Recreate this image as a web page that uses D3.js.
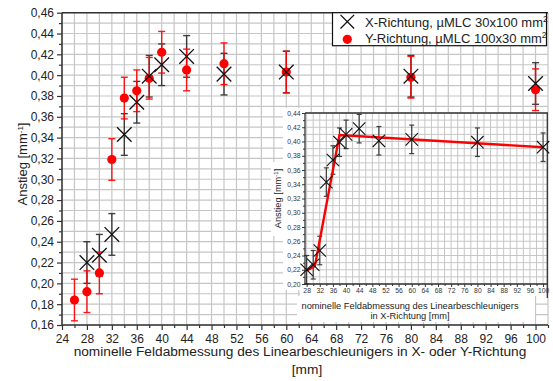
<!DOCTYPE html>
<html><head><meta charset="utf-8">
<script src="https://cdn.jsdelivr.net/npm/d3@7"></script>
<style>body{margin:0;background:#fff}svg{display:block;font-family:"Liberation Sans",Arial,sans-serif}</style>
</head><body>
<svg id="c" width="553" height="381"></svg>
<script>
// ---- data ----
const xDirSizes = [28,30,32,34,36,38,40,44,50,60,80,100];
const xDirSlope = [0.220,0.227,0.247,0.343,0.374,0.399,0.410,0.418,0.401,0.403,0.399,0.392];
const xDirErr   = [0.02,0.02,0.02,0.02,0.02,0.02,0.02,0.02,0.02,0.02,0.02,0.02];
const yDirSizes = [26,28,30,32,34,36,38,40,44,50,60,80,100];
const yDirSlope = [0.184,0.192,0.210,0.319,0.378,0.385,0.397,0.422,0.405,0.411,0.403,0.398,0.386];
const yDirErr   = [0.02,0.02,0.02,0.02,0.02,0.02,0.02,0.02,0.02,0.02,0.02,0.02,0.02];
const fitSizes  = [28,30.5,38,100];
const fitSlope  = [0.219,0.225,0.409,0.392];
const mainXTicks = d3.range(24,101,4);
const mainYTicks = d3.range(16,47,2).map(v=>v/100);
const insetXTicks = d3.range(28,101,4);
const insetYTicks = d3.range(20,45,2).map(v=>v/100);
const legendLabels = ["X-Richtung, µMLC 30x100 mm","Y-Richtung, µMLC 100x30 mm"];

const svg = d3.select("#c");
const fmt = d => d3.format(".2f")(d).replace(".", ",");
const gridCol = "#c6c6c6", axisCol = "#333";

// ---- main chart ----
const x = d3.scaleLinear().domain([24,102]).range([62,548]);
const y = d3.scaleLinear().domain([0.16,0.46]).range([325,12.7]);
const main = svg.append("g");
// grid
main.append("g").selectAll("line").data(d3.range(24,103,2)).join("line")
  .attr("x1",d=>x(d)).attr("x2",d=>x(d)).attr("y1",y(0.16)).attr("y2",y(0.46))
  .attr("stroke",gridCol).attr("stroke-width",1.2);
main.append("g").selectAll("line").data(d3.range(16,47,1).map(v=>v/100)).join("line")
  .attr("x1",x(24)).attr("x2",x(102)).attr("y1",d=>y(d)).attr("y2",d=>y(d))
  .attr("stroke",gridCol).attr("stroke-width",1.2);
// axes
const yAx = main.append("g").attr("transform",`translate(${x(24)},0)`)
  .call(d3.axisLeft(y).tickValues(mainYTicks).tickFormat(fmt).tickSize(5).tickPadding(3));
main.append("g").attr("transform",`translate(${x(24)},0)`)
  .call(d3.axisLeft(y).tickValues(d3.range(17,46,2).map(v=>v/100)).tickFormat("").tickSize(3));
const xAx = main.append("g").attr("transform",`translate(0,${y(0.16)})`)
  .call(d3.axisBottom(x).tickValues(mainXTicks).tickFormat(d3.format("d")).tickSize(5).tickPadding(4));
main.append("g").attr("transform",`translate(0,${y(0.16)})`)
  .call(d3.axisBottom(x).tickValues(d3.range(26,103,4)).tickFormat("").tickSize(3));
main.selectAll(".domain").remove();
main.selectAll(".tick line").attr("stroke",axisCol).attr("stroke-width",1.2);
main.selectAll(".tick text").attr("font-size",12).attr("fill","#222").attr("font-family","Liberation Sans, Arial, sans-serif");
main.append("line").attr("x1",x(24)).attr("x2",x(24)).attr("y1",y(0.46)).attr("y2",y(0.16)).attr("stroke",axisCol).attr("stroke-width",1.5);
main.append("line").attr("x1",x(24)).attr("x2",x(102)).attr("y1",y(0.16)).attr("y2",y(0.16)).attr("stroke",axisCol).attr("stroke-width",1.5);
main.append("line").attr("x1",x(24)).attr("x2",x(102)).attr("y1",y(0.46)).attr("y2",y(0.46)).attr("stroke",axisCol).attr("stroke-width",1.5);

// titles
svg.append("text").attr("transform","translate(27,164) rotate(-90)").attr("text-anchor","middle")
  .attr("font-size",13).attr("fill","#222")
  .html('Anstieg [mm<tspan baseline-shift="super" font-size="8">-1</tspan>]');
svg.append("text").attr("x",300).attr("y",356).attr("text-anchor","middle").attr("font-size",13.7).attr("fill","#222")
  .text("nominelle Feldabmessung des Linearbeschleunigers in X- oder Y-Richtung");
svg.append("text").attr("x",307).attr("y",374).attr("text-anchor","middle").attr("font-size",13.7).attr("fill","#222")
  .text("[mm]");

function errBars(g, sx, sy, xs, vs, es, col, cap, sw, op){
  const d = xs.map((v,i)=>({x:v,y:vs[i],e:es[i]}));
  const gg = g.append("g").attr("stroke",col).attr("stroke-width",sw).attr("opacity",op);
  gg.selectAll(".v").data(d).join("line").attr("x1",p=>sx(p.x)).attr("x2",p=>sx(p.x))
    .attr("y1",p=>sy(p.y-p.e)).attr("y2",p=>sy(p.y+p.e));
  gg.selectAll(".t").data(d).join("line").attr("x1",p=>sx(p.x)-cap).attr("x2",p=>sx(p.x)+cap)
    .attr("y1",p=>sy(p.y+p.e)).attr("y2",p=>sy(p.y+p.e));
  gg.selectAll(".b").data(d).join("line").attr("x1",p=>sx(p.x)-cap).attr("x2",p=>sx(p.x)+cap)
    .attr("y1",p=>sy(p.y-p.e)).attr("y2",p=>sy(p.y-p.e));
}
function crosses(g, sx, sy, xs, vs, h, sw){
  const d = xs.map((v,i)=>({x:v,y:vs[i]}));
  g.append("g").selectAll("path").data(d).join("path")
    .attr("d",p=>{const cx=sx(p.x),cy=sy(p.y);return `M${cx-h},${cy-h}L${cx+h},${cy+h}M${cx-h},${cy+h}L${cx+h},${cy-h}`;})
    .attr("stroke","#111").attr("stroke-width",sw).attr("fill","none");
}

errBars(main, x, y, xDirSizes, xDirSlope, xDirErr, "#222", 3.5, 1.4, 0.85);
errBars(main, x, y, yDirSizes, yDirSlope, yDirErr, "#f00", 3.5, 1.4, 0.9);
main.append("g").selectAll("circle").data(yDirSizes.map((v,i)=>({x:v,y:yDirSlope[i]}))).join("circle")
  .attr("cx",p=>x(p.x)).attr("cy",p=>y(p.y)).attr("r",4.6).attr("fill","#f00");
crosses(main, x, y, xDirSizes, xDirSlope, 7.3, 1.3);

// legend
const lg = svg.append("g");
lg.append("rect").attr("x",332.5).attr("y",12.7).attr("width",214).attr("height",33).attr("fill","#fff").attr("stroke","#111").attr("stroke-width",1.2);
lg.append("path").attr("d","M340.5,14.9L354.1,28.5M340.5,28.5L354.1,14.9").attr("stroke","#111").attr("stroke-width",1.3);
lg.append("circle").attr("cx",347.3).attr("cy",39.3).attr("r",4.6).attr("fill","#f00");
legendLabels.forEach((t,i)=>{
  lg.append("text").attr("x",365).attr("y",26.5+i*16.5).attr("font-size",13).attr("fill","#222")
    .html(t+'<tspan baseline-shift="super" font-size="8.5">2</tspan>');
});

// ---- inset ----
const ix = d3.scaleLinear().domain([27.5,101.5]).range([305,548]);
const iy = d3.scaleLinear().domain([0.20,0.44]).range([284,113]);
const ins = svg.append("g");
ins.append("rect").attr("x",283).attr("y",108).attr("width",22).attr("height",182).attr("fill","#fff");
ins.append("rect").attr("x",300).attr("y",284).attr("width",248).attr("height",12).attr("fill","#fff");
ins.append("rect").attr("x",271).attr("y",162).attr("width",13).attr("height",74).attr("fill","#fff");
ins.append("rect").attr("x",297).attr("y",296).attr("width",238).attr("height",26).attr("fill","#fff");
ins.append("rect").attr("x",305).attr("y",113).attr("width",243).attr("height",171).attr("fill","#fff");
ins.append("g").selectAll("line").data(d3.range(28,102,2)).join("line")
  .attr("x1",d=>ix(d)).attr("x2",d=>ix(d)).attr("y1",iy(0.20)).attr("y2",iy(0.44))
  .attr("stroke",gridCol).attr("stroke-width",1);
ins.append("g").selectAll("line").data(d3.range(20,45,1).map(v=>v/100)).join("line")
  .attr("x1",ix(27.5)).attr("x2",ix(101.5)).attr("y1",d=>iy(d)).attr("y2",d=>iy(d))
  .attr("stroke",gridCol).attr("stroke-width",1);
const iyA = ins.append("g").attr("transform",`translate(${ix(27.5)},0)`)
  .call(d3.axisLeft(iy).tickValues(insetYTicks).tickFormat(fmt).tickSize(3).tickPadding(1.5));
ins.append("g").attr("transform",`translate(${ix(27.5)},0)`)
  .call(d3.axisLeft(iy).tickValues(d3.range(21,44,2).map(v=>v/100)).tickFormat("").tickSize(2));
const ixA = ins.append("g").attr("transform",`translate(0,${iy(0.20)})`)
  .call(d3.axisBottom(ix).tickValues(insetXTicks).tickFormat(d3.format("d")).tickSize(3).tickPadding(1.5));
ins.append("g").attr("transform",`translate(0,${iy(0.20)})`)
  .call(d3.axisBottom(ix).tickValues(d3.range(30,101,4)).tickFormat("").tickSize(2));
ins.selectAll(".domain").remove();
ins.selectAll(".tick line").attr("stroke",axisCol).attr("stroke-width",1);
ins.selectAll(".tick text").attr("font-size",6.8).attr("fill","#333").attr("font-family","Liberation Sans, Arial, sans-serif");
ins.append("line").attr("x1",ix(27.5)).attr("x2",ix(27.5)).attr("y1",iy(0.44)).attr("y2",iy(0.20)).attr("stroke",axisCol).attr("stroke-width",1.3);
ins.append("line").attr("x1",ix(27.5)).attr("x2",ix(101.5)).attr("y1",iy(0.20)).attr("y2",iy(0.20)).attr("stroke",axisCol).attr("stroke-width",1.3);
ins.append("line").attr("x1",ix(27.5)).attr("x2",548).attr("y1",iy(0.44)).attr("y2",iy(0.44)).attr("stroke",axisCol).attr("stroke-width",1.3);
ins.append("line").attr("x1",547.3).attr("x2",547.3).attr("y1",iy(0.44)).attr("y2",298).attr("stroke",axisCol).attr("stroke-width",1.3);

errBars(ins, ix, iy, xDirSizes, xDirSlope, xDirErr, "#222", 2.5, 1.2, 0.85);
ins.append("path").datum(fitSizes.map((v,i)=>[v,fitSlope[i]]))
  .attr("d",d3.line().x(d=>ix(d[0])).y(d=>iy(d[1]))).attr("fill","none").attr("stroke","#f00").attr("stroke-width",2.4);
crosses(ins, ix, iy, xDirSizes, xDirSlope, 6.2, 1.1);

ins.append("text").attr("transform","translate(280.5,198.5) rotate(-90)").attr("text-anchor","middle")
  .attr("font-size",9.3).attr("fill","#222")
  .html('Anstieg [mm<tspan baseline-shift="super" font-size="6">-1</tspan>]');
ins.append("text").attr("x",410).attr("y",308.5).attr("text-anchor","middle").attr("font-size",9.3).attr("fill","#222")
  .text("nominelle Feldabmessung des Linearbeschleunigers");
ins.append("text").attr("x",410).attr("y",318.5).attr("text-anchor","middle").attr("font-size",9.3).attr("fill","#222")
  .text("in X-Richtung [mm]");
</script>
</body></html>
